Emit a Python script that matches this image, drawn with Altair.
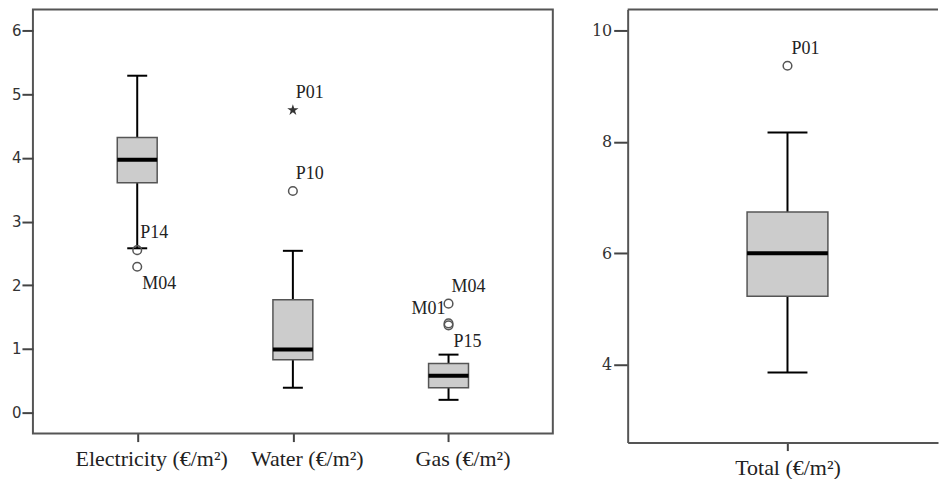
import altair as alt
import pandas as pd

# ---------------- data ----------------
categories = ["Electricity (€/m²)", "Water (€/m²)", "Gas (€/m²)"]
whisker_low = [2.58, 0.39, 0.20]
q1 = [3.61, 0.83, 0.39]
median = [3.97, 0.99, 0.58]
q3 = [4.32, 1.77, 0.77]
whisker_high = [5.29, 2.54, 0.91]

out_cat = ["Electricity (€/m²)", "Electricity (€/m²)", "Water (€/m²)",
           "Gas (€/m²)", "Gas (€/m²)", "Gas (€/m²)"]
out_val = [2.55, 2.29, 3.48, 1.71, 1.40, 1.37]
extreme_cat = ["Water (€/m²)"]
extreme_val = [4.75]

label_cat = ["Electricity (€/m²)", "Electricity (€/m²)", "Water (€/m²)", "Water (€/m²)",
             "Gas (€/m²)", "Gas (€/m²)", "Gas (€/m²)"]
label_val = [2.55, 2.29, 4.75, 3.48, 1.71, 1.40, 1.37]
label_text = ["P14", "M04", "P01", "P10", "M04", "M01", "P15"]
label_place = ["above", "below", "above", "above", "above", "left", "below"]

total_cat = ["Total (€/m²)"]
total_whisker_low = [3.86]
total_q1 = [5.23]
total_median = [6.00]
total_q3 = [6.74]
total_whisker_high = [8.17]
total_out_val = [9.37]
total_label = ["P01"]

left_ticks = [0, 1, 2, 3, 4, 5, 6]
right_ticks = [4, 6, 8, 10]

# ---------------- tables ----------------
box = pd.DataFrame({"cat": categories, "lo": whisker_low, "q1": q1, "med": median,
                    "q3": q3, "hi": whisker_high})
outl = pd.DataFrame({"cat": out_cat, "v": out_val})
extr = pd.DataFrame({"cat": extreme_cat, "v": extreme_val})
labs = pd.DataFrame({"cat": label_cat, "v": label_val, "t": label_text, "p": label_place})

tbox = pd.DataFrame({"cat": total_cat, "lo": total_whisker_low, "q1": total_q1,
                     "med": total_median, "q3": total_q3, "hi": total_whisker_high})
tout = pd.DataFrame({"cat": total_cat, "v": total_out_val, "t": total_label})

STAR = ("M0,-1L0.2245,-0.309L0.951,-0.309L0.363,0.118L0.588,0.809L0,0.382"
        "L-0.588,0.809L-0.363,0.118L-0.951,-0.309L-0.2245,-0.309Z")
LABEL_FONT = "Liberation Serif"
LFS = 18

# ---------------- left panel ----------------
xl = alt.X("cat:N", sort=categories,
           scale=alt.Scale(type="point", domain=categories, padding=0.67),
           axis=alt.Axis(title=None, labelAngle=0, domain=False, tickSize=8, tickWidth=2,
                         tickColor="#444", labelFont="Liberation Serif", labelFontSize=22,
                         labelColor="#222", labelPadding=7, labelBaseline="top",
                         labelOffset=14))
yl_scale = alt.Scale(domain=[-0.33, 6.33], nice=False, zero=False)
yl_axis = alt.Axis(title=None, values=left_ticks, format="d", grid=False, domain=False,
                   tickSize=11, tickWidth=2, tickColor="#444", labelFont="DejaVu Sans",
                   labelFontSize=15, labelColor="#333", labelPadding=1)

lb = alt.Chart(box)
whisk = lb.mark_rule(color="black", strokeWidth=2, opacity=1).encode(
    x=xl, y=alt.Y("lo:Q", scale=yl_scale, axis=yl_axis), y2="hi:Q")
bx = lb.mark_bar(size=40, fill="#cccccc", stroke="#555", strokeWidth=1.5,
                 opacity=1).encode(
    x=xl, y=alt.Y("q1:Q", scale=yl_scale), y2="q3:Q")
med = lb.mark_tick(size=40, thickness=4, color="black", opacity=1).encode(
    x=xl, y=alt.Y("med:Q", scale=yl_scale))
cap_lo = lb.mark_tick(size=20, thickness=2, color="black", opacity=1).encode(
    x=xl, y=alt.Y("lo:Q", scale=yl_scale))
cap_hi = lb.mark_tick(size=20, thickness=2, color="black", opacity=1).encode(
    x=xl, y=alt.Y("hi:Q", scale=yl_scale))
pts = alt.Chart(outl).mark_point(shape="circle", filled=False, color="#555", size=75,
                                 strokeWidth=1.5, opacity=1).encode(
    x=xl, y=alt.Y("v:Q", scale=yl_scale))
star = alt.Chart(extr).mark_point(shape=STAR, filled=True, color="#333", size=140,
                                  opacity=1).encode(
    x=xl, y=alt.Y("v:Q", scale=yl_scale))

base_txt = alt.Chart(labs)
txt_above = base_txt.transform_filter(alt.datum.p == "above").mark_text(
    align="left", baseline="middle", dx=3, dy=-17, font=LABEL_FONT, fontSize=LFS,
    color="#222").encode(x=xl, y=alt.Y("v:Q", scale=yl_scale), text="t:N")
txt_below = base_txt.transform_filter(alt.datum.p == "below").mark_text(
    align="left", baseline="middle", dx=5, dy=17, font=LABEL_FONT, fontSize=LFS,
    color="#222").encode(x=xl, y=alt.Y("v:Q", scale=yl_scale), text="t:N")
txt_left = base_txt.transform_filter(alt.datum.p == "left").mark_text(
    align="right", baseline="middle", dx=-3, dy=-14, font=LABEL_FONT, fontSize=LFS,
    color="#222").encode(x=xl, y=alt.Y("v:Q", scale=yl_scale), text="t:N")

left = alt.layer(whisk, bx, med, cap_lo, cap_hi, pts, star, txt_above, txt_below,
                 txt_left).properties(
    width=521, height=425,
    view=alt.ViewBackground(stroke="#555", strokeWidth=2))

# ---------------- right panel ----------------
RW = 311
RH = 434
xr = alt.X("cat:N", scale=alt.Scale(type="point", domain=total_cat, padding=1,
                                    align=0.515),
           axis=alt.Axis(title=None, labelAngle=0, domain=True, domainColor="#555",
                         domainWidth=2, tickSize=8, tickWidth=2, tickColor="#444",
                         labelFont="Liberation Serif", labelFontSize=22, labelColor="#222",
                         labelPadding=7, labelBaseline="top"))
yr_scale = alt.Scale(domain=[2.6, 10.38], nice=False, zero=False)
yr_axis = alt.Axis(title=None, values=right_ticks, format="d", grid=False, domain=True,
                   domainColor="#555", domainWidth=2, tickSize=14, tickWidth=2,
                   tickColor="#444", labelFont="DejaVu Serif", labelFontSize=16,
                   labelColor="#333", labelPadding=2)

rb = alt.Chart(tbox)
r_whisk = rb.mark_rule(color="black", strokeWidth=2, opacity=1).encode(
    x=xr, y=alt.Y("lo:Q", scale=yr_scale, axis=yr_axis), y2="hi:Q")
r_box = rb.mark_bar(size=81, fill="#cccccc", stroke="#555", strokeWidth=1.5,
                    opacity=1).encode(
    x=xr, y=alt.Y("q1:Q", scale=yr_scale), y2="q3:Q")
r_med = rb.mark_tick(size=81, thickness=4, color="black", opacity=1).encode(
    x=xr, y=alt.Y("med:Q", scale=yr_scale))
r_cap_lo = rb.mark_tick(size=40, thickness=2, color="black", opacity=1).encode(
    x=xr, y=alt.Y("lo:Q", scale=yr_scale))
r_cap_hi = rb.mark_tick(size=40, thickness=2, color="black", opacity=1).encode(
    x=xr, y=alt.Y("hi:Q", scale=yr_scale))
r_pts = alt.Chart(tout).mark_point(shape="circle", filled=False, color="#555", size=75,
                                   strokeWidth=1.5, opacity=1).encode(
    x=xr, y=alt.Y("v:Q", scale=yr_scale))
r_txt = alt.Chart(tout).mark_text(align="left", baseline="middle", dx=4, dy=-17,
                                  font=LABEL_FONT, fontSize=LFS, color="#222").encode(
    x=xr, y=alt.Y("v:Q", scale=yr_scale), text="t:N")
top_border = alt.Chart(tout).mark_rule(color="#555", strokeWidth=2).encode(
    x=alt.value(0), x2=alt.value(RW), y=alt.value(0))

right = alt.layer(top_border, r_whisk, r_box, r_med, r_cap_lo, r_cap_hi,
                  r_pts, r_txt).properties(
    width=RW, height=RH,
    view=alt.ViewBackground(stroke=None))

chart = alt.hconcat(left, right, spacing=37).properties(
    padding={"left": 10, "top": 8, "right": 0, "bottom": 0},
    background="white",
).configure_view(stroke=None)

chart.save("out.html", embed_options={"renderer": "svg", "actions": False})
